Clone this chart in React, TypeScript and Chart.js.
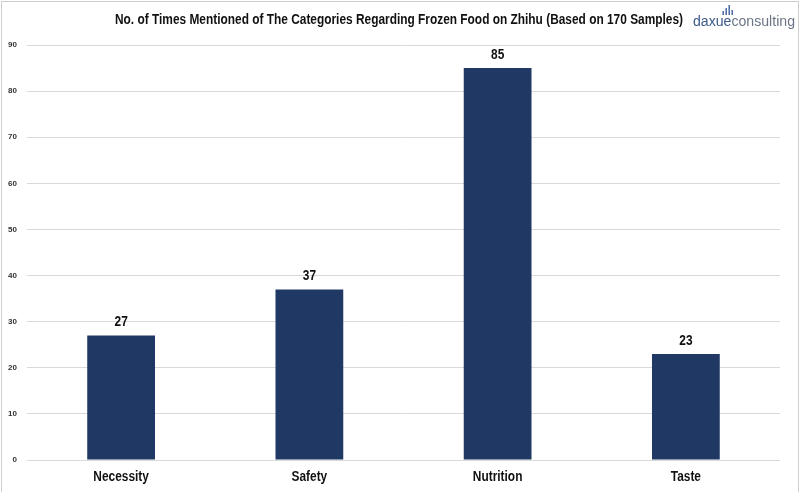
import React, { useEffect, useRef } from "react";
import { Chart, registerables } from "chart.js";

Chart.register(...registerables);

const categories = ["Necessity", "Safety", "Nutrition", "Taste"];
const mentions = [27, 37, 85, 23];
const yTicks = [0, 10, 20, 30, 40, 50, 60, 70, 80, 90];
const titleText = "No. of Times Mentioned of The Categories Regarding Frozen Food on Zhihu (Based on 170 Samples)";

const FONT = '"Liberation Sans", Arial, sans-serif';

function drawCondensed(ctx: any, text: string, x: number, y: number, sx: number) {
  ctx.save();
  ctx.translate(x, y);
  ctx.scale(sx, 1);
  ctx.fillText(text, 0, 0);
  ctx.restore();
}

export default function App() {
  const ref = useRef<HTMLCanvasElement | null>(null);
  useEffect(() => {
    document.body.style.margin = "0";
    const canvas = ref.current!;
    const overlay = {
      id: "overlay",
      afterDatasetsDraw(chart: any) {
        const ctx = chart.ctx;
        const meta = chart.getDatasetMeta(0);
        ctx.save();
        ctx.fillStyle = "#111";
        ctx.font = `bold 14px ${FONT}`;
        ctx.textAlign = "center";
        ctx.textBaseline = "bottom";
        meta.data.forEach((bar: any, i: number) => {
          drawCondensed(ctx, String(mentions[i]), bar.x, bar.y - 6, 0.85);
        });
        ctx.textBaseline = "middle";
        const xs = chart.scales.x;
        categories.forEach((c, i) => {
          drawCondensed(ctx, c, xs.getPixelForValue(i), 477, 0.85);
        });
        ctx.restore();
      },
      afterDraw(chart: any) {
        const ctx = chart.ctx;
        ctx.save();
        ctx.fillStyle = "#111";
        ctx.font = `bold 14px ${FONT}`;
        ctx.textAlign = "center";
        ctx.textBaseline = "middle";
        const tw = ctx.measureText(titleText).width;
        drawCondensed(ctx, titleText, 399, 20, 568 / tw);
        // logo
        ctx.textAlign = "left";
        ctx.font = `14px ${FONT}`;
        const lx = 693;
        const w1 = ctx.measureText("daxue").width;
        const w2 = ctx.measureText("consulting").width;
        const s = 102 / (w1 + w2);
        ctx.save();
        ctx.translate(lx, 22);
        ctx.scale(s, 1);
        ctx.fillStyle = "#3d5a8a";
        ctx.fillText("daxue", 0, 0);
        ctx.fillStyle = "#6b7585";
        ctx.fillText("consulting", w1, 0);
        ctx.restore();
        ctx.fillStyle = "#4a6aa6";
        const bx = lx + w1 * s - 9;
        [[0, 4], [3, 7], [6, 10], [9, 5]].forEach(([dx, h]) => {
          ctx.fillRect(bx + dx, 15 - h, 1.5, h);
        });
        ctx.restore();
      },
    };
    const chart = new Chart(canvas, {
      type: "bar",
      data: {
        labels: categories,
        datasets: [
          {
            data: mentions,
            backgroundColor: "#1f3864",
            borderWidth: 0,
            barPercentage: 0.36,
            categoryPercentage: 1,
          },
        ],
      },
      options: {
        animation: false,
        responsive: false,
        maintainAspectRatio: false,
        layout: { padding: { top: 45, right: 20, left: 0, bottom: 0 } },
        plugins: { legend: { display: false }, tooltip: { enabled: false }, title: { display: false } },
        scales: {
          x: {
            grid: { display: false },
            border: { display: false },
            ticks: {
              color: "rgba(0,0,0,0)",
              font: { family: FONT, size: 14, weight: "bold" },
              padding: 8,
              maxRotation: 0,
            },
            afterFit(scale: any) {
              scale.height = 32;
            },
          },
          y: {
            min: 0,
            max: 90,
            afterBuildTicks(scale: any) {
              scale.ticks = yTicks.map((v) => ({ value: v }));
            },
            grid: { color: "#d9d9d9", lineWidth: 1, drawTicks: false },
            border: { display: false },
            ticks: {
              color: "#333",
              font: { family: FONT, size: 8, weight: "bold" },
              padding: 10,
            },
            afterFit(scale: any) {
              scale.width = 27;
            },
          },
        },
      },
      plugins: [overlay],
    });
    return () => chart.destroy();
  }, []);
  return (
    <div style={{ position: "relative", width: 800, height: 492, background: "#fff" }}>
      <canvas ref={ref} width={800} height={492} style={{ display: "block" }} />
      <div
        style={{
          position: "absolute",
          left: 1,
          top: 1,
          right: 1,
          bottom: -2,
          borderLeft: "1px solid #cfcfcf",
          borderTop: "1px solid #cfcfcf",
          borderRight: "1px solid #cfcfcf",
          pointerEvents: "none",
        }}
      />
    </div>
  );
}
